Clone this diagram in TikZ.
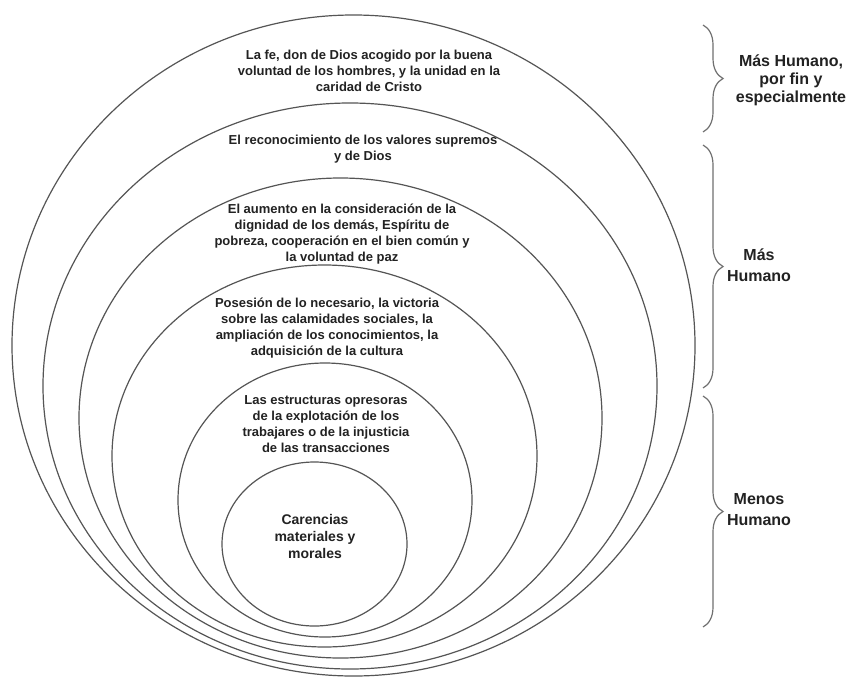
\documentclass[tikz,border=0pt]{standalone}
\usepackage{fontspec}
\setmainfont{Liberation Sans}
\usetikzlibrary{decorations.pathreplacing}
\definecolor{ringcol}{HTML}{555555}
\definecolor{txtcol}{HTML}{222222}
\definecolor{brccol}{HTML}{707070}
\begin{document}
\begin{tikzpicture}[x=1pt,y=-1pt,
  ringline/.style={draw=ringcol,line width=1.2pt},
  innertext/.style={font=\bfseries\fontsize{13}{16}\selectfont,text=txtcol,align=center,inner sep=0pt},
  coretext/.style={font=\bfseries\fontsize{14}{17}\selectfont,text=txtcol,align=center,inner sep=0pt},
  sidetext/.style={font=\bfseries\fontsize{16}{21}\selectfont,text=txtcol,align=center,inner sep=0pt},
  bracestyle/.style={draw=brccol,line width=1.2pt,decorate,decoration={brace,amplitude=20pt,aspect=0.5}}]
\useasboundingbox (0,0) rectangle (853,677);
\fill[white] (0,0) rectangle (853,677);
% rings
\draw[ringline] (353.5,345.5) ellipse [x radius=341.5pt, y radius=330.5pt];
\draw[ringline] (350,386) ellipse [x radius=307pt, y radius=283pt];
\draw[ringline] (340.5,418) ellipse [x radius=261.5pt, y radius=240pt];
\draw[ringline] (324.5,456) ellipse [x radius=212.5pt, y radius=191pt];
\draw[ringline] (325,500) ellipse [x radius=147pt, y radius=137pt];
\draw[ringline] (314.5,544) ellipse [x radius=92.5pt, y radius=82pt];
% ring texts
\node[innertext] (t1) at (369,71) {La fe, don de Dios acogido por la buena\\voluntad de los hombres, y la unidad en la\\caridad de Cristo};
\node[innertext] (t2) at (363,149.5) {El reconocimiento de los valores supremos\\y de Dios};
\node[innertext] (t3) at (342,234) {El aumento en la consideración de la\\dignidad de los demás, Espíritu de\\pobreza, cooperación en el bien común y\\la voluntad de paz};
\node[innertext] (t4) at (327,328.5) {Posesión de lo necesario, la victoria\\sobre las calamidades sociales, la\\ampliación de los conocimientos, la\\adquisición de la cultura};
\node[innertext] (t5) at (326,424.5) {Las estructuras opresoras\\de la explotación de los\\trabajares o de la injusticia\\de las transacciones};
\node[coretext] (t6) at (315,536) {Carencias\\materiales y\\morales};
% braces
\coordinate (b1t) at (703,25);
\coordinate (b1b) at (703,132);
\coordinate (b2t) at (703,145);
\coordinate (b2b) at (703,388);
\coordinate (b3t) at (703,396);
\coordinate (b3b) at (703,627);
\draw[bracestyle] (b1t) -- (b1b);
\draw[bracestyle] (b2t) -- (b2b);
\draw[bracestyle] (b3t) -- (b3b);
% side labels
\node[sidetext,font=\bfseries\fontsize{16}{18}\selectfont] (s1) at (791,80) {Más Humano,\\por fin y\\especialmente};
\node[sidetext] (s2) at (759,265.5) {Más\\Humano};
\node[sidetext] (s3) at (759,509.5) {Menos\\Humano};
\end{tikzpicture}
\end{document}
